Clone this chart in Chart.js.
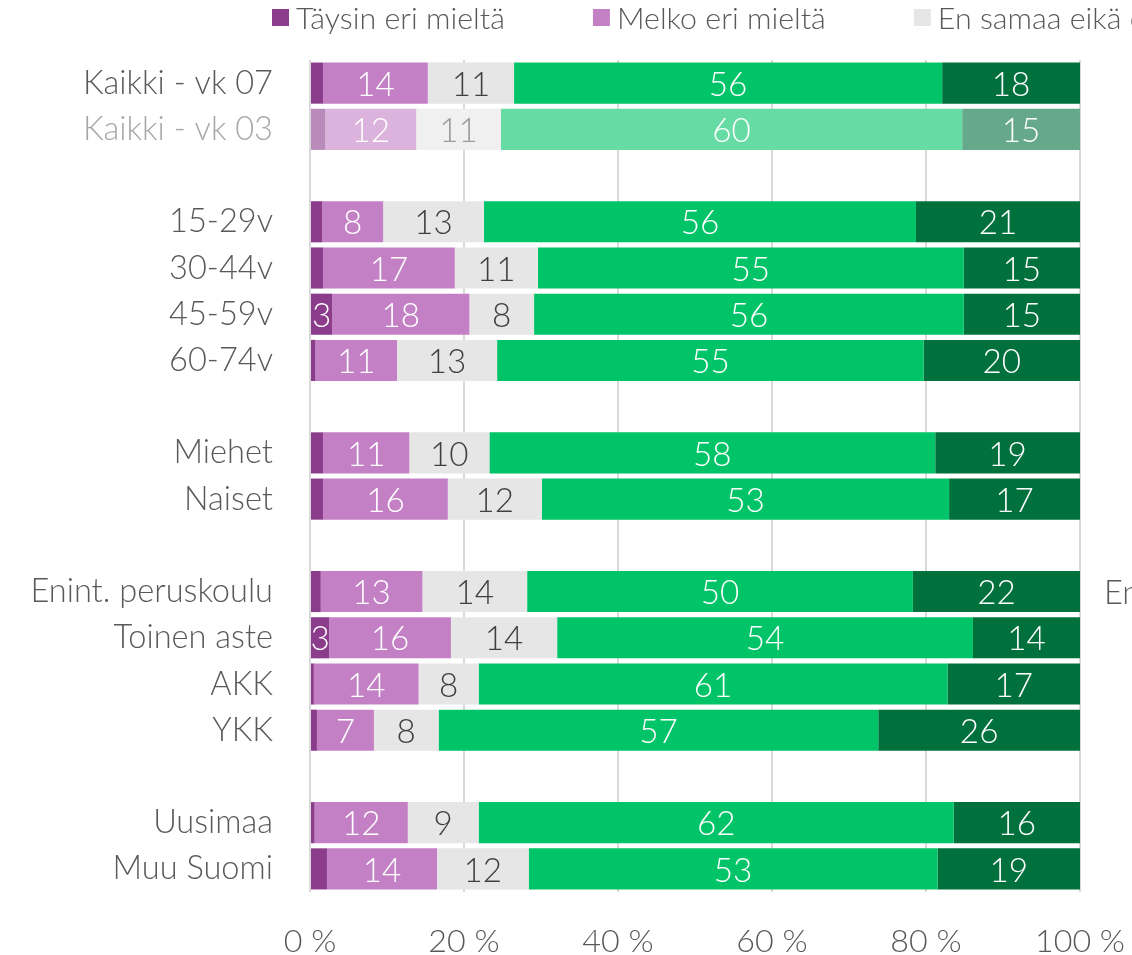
<!DOCTYPE html>
<html><head><meta charset="utf-8">
<script src="https://cdn.jsdelivr.net/npm/chart.js@4.4.1/dist/chart.umd.min.js"></script>
<style>html,body{margin:0;padding:0;background:#fff;overflow:hidden}#wrap{width:1132px;height:955px;position:relative}</style>
</head><body><div id="wrap"><canvas id="c" width="1132" height="955"></canvas></div>
<script>
const categories = ['Kaikki - vk 07','Kaikki - vk 03','','15-29v','30-44v','45-59v','60-74v','','Miehet','Naiset','','Enint. peruskoulu','Toinen aste','AKK','YKK','','Uusimaa','Muu Suomi'];
const seriesNames = ['Täysin eri mieltä','Melko eri mieltä','En samaa eikä eri mieltä','Melko samaa mieltä','Täysin samaa mieltä'];
const taysinEri   = [1.7, 2.0, null, 1.6, 1.7, 2.9, 0.7, null, 1.7, 1.7, null, 1.4, 2.5, 0.5, 0.9, null, 0.6, 2.2];
const melkoEri    = [13.6, 11.8, null, 7.9, 17.1, 17.8, 10.6, null, 11.2, 16.2, null, 13.2, 15.8, 13.6, 7.4, null, 12.1, 14.3];
const neutraali   = [11.2, 11.0, null, 13.1, 10.8, 8.4, 13.0, null, 10.4, 12.2, null, 13.6, 13.8, 7.8, 8.4, null, 9.2, 11.9];
const melkoSamaa  = [55.6, 59.9, null, 56.1, 55.3, 55.8, 55.4, null, 57.9, 52.9, null, 50.1, 54.0, 60.9, 57.1, null, 61.7, 53.1];
const taysinSamaa = [17.9, 15.3, null, 21.3, 15.1, 15.1, 20.3, null, 18.8, 17.0, null, 21.7, 13.9, 17.2, 26.2, null, 16.4, 18.5];
const xTickValues = [0, 20, 40, 60, 80, 100];
const sideNote = 'En';

// styles
const FONT = 'Lato, "Open Sans", sans-serif';
const baseColors  = ['#8b3d8c', '#c380c5', '#e6e6e6', '#00c467', '#00703c'];
const fadedColors = ['#b98bba', '#dbb3dd', '#f0f0f0', '#66dca4', '#66a98a'];
const labelColors = ['#ffffff', '#ffffff', '#404040', '#ffffff', '#ffffff'];
const fadedLabelColors = ['#ffffff', '#ffffff', '#9a9a9a', '#ffffff', '#ffffff'];
const FADED_ROW = 1;

function fitSize(text, weight, target) {
  const c = document.createElement('canvas').getContext('2d');
  c.font = weight + ' 100px ' + FONT;
  return 100 * target / c.measureText(text).width;
}

function build() {
  const catSize = fitSize('Kaikki - vk 07', 300, 190);
  const legSize = fitSize('Täysin eri mieltä', 300, 209);
  const tickSize = fitSize('100 %', 300, 90);
  const valSize = catSize * 1.02;

  const seriesValues = [taysinEri, melkoEri, neutraali, melkoSamaa, taysinSamaa];
  const datasets = seriesNames.map((name, si) => ({
    label: name,
    data: seriesValues[si],
    backgroundColor: ctx => ctx.dataIndex === FADED_ROW ? fadedColors[si] : baseColors[si],
    borderWidth: 0,
    barPercentage: 0.89,
    categoryPercentage: 1.0
  }));

  const valueLabels = {
    id: 'valueLabels',
    afterDatasetsDraw(chart) {
      const {ctx} = chart;
      ctx.save();
      ctx.font = `300 ${valSize}px ${FONT}`;
      ctx.textAlign = 'center';
      ctx.textBaseline = 'middle';
      chart.data.datasets.forEach((ds, di) => {
        chart.getDatasetMeta(di).data.forEach((el, i) => {
          const v = ds.data[i];
          if (v == null || v < 2.5) return;
          const p = el.getProps(['x', 'base', 'y'], true);
          ctx.fillStyle = i === FADED_ROW ? fadedLabelColors[di] : labelColors[di];
          ctx.fillText(String(Math.round(v)), (p.x + p.base) / 2, p.y + 2);
        });
      });
      ctx.restore();
    }
  };

  const topLegend = {
    id: 'topLegend',
    afterDraw(chart) {
      const {ctx, chartArea} = chart;
      ctx.save();
      ctx.font = `300 ${legSize}px ${FONT}`;
      ctx.textAlign = 'left';
      ctx.textBaseline = 'middle';
      let x = chartArea.left - 38;
      const y = 18;
      chart.data.datasets.forEach((ds, di) => {
        ctx.fillStyle = baseColors[di];
        ctx.fillRect(x, y - 9, 17, 17);
        ctx.fillStyle = '#595959';
        ctx.fillText(ds.label, x + 24, y + 1);
        x += 24 + ctx.measureText(ds.label).width + 88;
      });
      // cut-off side text
      ctx.font = `300 ${catSize}px ${FONT}`;
      const ys = chart.scales.y.getPixelForValue(categories.indexOf('Enint. peruskoulu'));
      ctx.fillText(sideNote, chartArea.right + 24, ys + 2);
      ctx.restore();
    }
  };

  new Chart(document.getElementById('c'), {
    type: 'bar',
    data: { labels: categories, datasets },
    options: {
      indexAxis: 'y',
      responsive: false,
      animation: false,
      layout: { padding: { top: 60, right: 52, left: 0, bottom: 0 } },
      plugins: { legend: { display: false }, tooltip: { enabled: false } },
      scales: {
        x: {
          stacked: true, min: 0, max: 100,
          afterBuildTicks: s => { s.ticks = xTickValues.map(v => ({value: v})); },
          afterFit: s => { s.height = 63; s.paddingRight = 0; s.paddingLeft = 0; },
          grid: { color: '#d9d9d9', lineWidth: 2, drawTicks: false },
          border: { display: false },
          ticks: {
            padding: 30,
            color: '#595959',
            font: { family: FONT, size: tickSize, weight: 300 },
            callback: v => v + ' %',
            maxRotation: 0
          }
        },
        y: {
          stacked: true,
          afterFit: s => { s.width = 310; },
          grid: { display: false, drawTicks: false },
          border: { display: false },
          ticks: {
            padding: 37,
            autoSkip: false,
            color: ctx => ctx.index === FADED_ROW ? '#a6a6a6' : '#595959',
            font: { family: FONT, size: catSize, weight: 300 }
          }
        }
      }
    },
    plugins: [valueLabels, topLegend]
  });
}

if (document.fonts && document.fonts.load) {
  document.fonts.load('300 30px Lato').then(build, build);
} else { build(); }
</script>
</body></html>
